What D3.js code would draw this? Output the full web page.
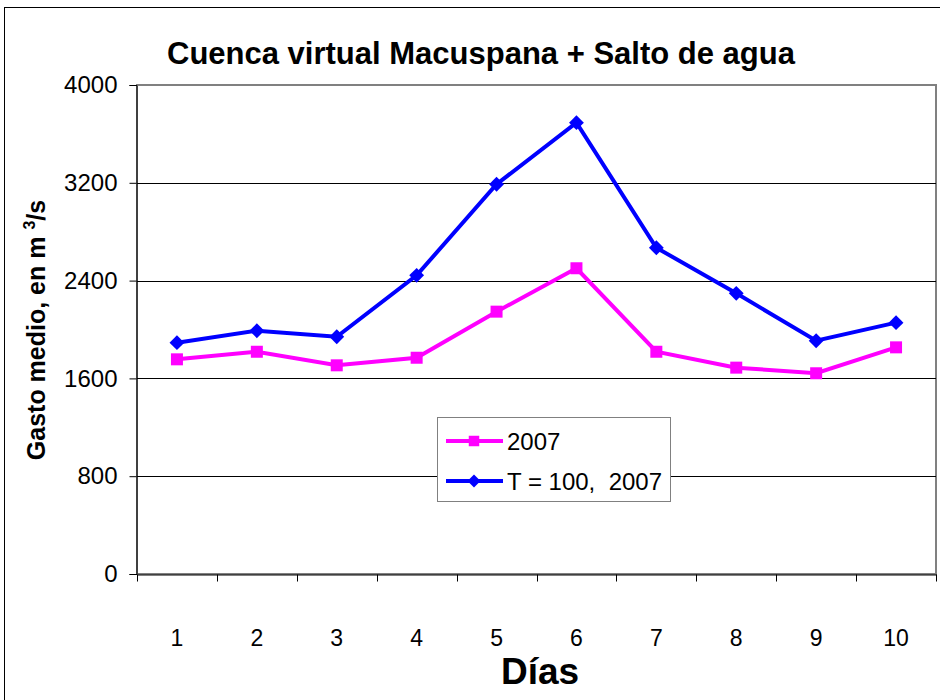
<!DOCTYPE html>
<html>
<head>
<meta charset="utf-8">
<script src="https://cdn.jsdelivr.net/npm/d3@7"></script>
<style>
  body { margin: 0; background: #fff; }
  svg text { font-family: "Liberation Sans", Arial, sans-serif; }
</style>
</head>
<body>
<div id="chart"></div>
<script>
const days = ["1", "2", "3", "4", "5", "6", "7", "8", "9", "10"];
const serie2007 = [1756, 1818, 1707, 1769, 2146, 2501, 1818, 1688, 1642, 1854];
const serieT100 = [1892, 1990, 1941, 2443, 3188, 3692, 2669, 2296, 1908, 2056];
const yTicks = [0, 800, 1600, 2400, 3200, 4000];
const seriesNames = ["2007", "T = 100,\u00a0 2007"];

const width = 940;
const height = 700;
const margin = { left: 137, right: 4, top: 85, bottom: 126 };

const svg = d3.select("#chart")
    .append("svg")
    .attr("width", width)
    .attr("height", height);

// outer chart border (cut off at right/bottom in the original)
svg.append("rect")
    .attr("x", 4.5).attr("y", 7.5)
    .attr("width", width + 10).attr("height", height + 10)
    .attr("fill", "none").attr("stroke", "#000");

const xScale = d3.scaleBand()
    .domain(days)
    .range([margin.left, width - margin.right]);

const yScale = d3.scaleLinear()
    .domain([0, 4000])
    .range([height - margin.bottom, margin.top]);

// plot area frame (grey)
svg.append("rect")
    .attr("x", margin.left).attr("y", margin.top)
    .attr("width", width - margin.right - margin.left)
    .attr("height", yScale(0) - margin.top)
    .attr("fill", "none").attr("stroke", "#808080").attr("stroke-width", 2);

// grid lines
svg.selectAll("line.grid")
    .data(yTicks.slice(1, -1))
    .enter()
    .append("line")
    .attr("class", "grid")
    .attr("x1", margin.left).attr("x2", width - margin.right)
    .attr("y1", d => Math.round(yScale(d)) + 0.5)
    .attr("y2", d => Math.round(yScale(d)) + 0.5)
    .attr("stroke", "#000");

const yAxis = d3.axisLeft(yScale).tickValues(yTicks).tickFormat(d3.format("d"))
    .tickSize(7).tickPadding(12);
svg.append("g")
    .attr("transform", "translate(" + (margin.left - 0.5) + ",0)")
    .call(yAxis)
    .call(g => g.selectAll("text").attr("font-size", 24).attr("fill", "#000")
        .attr("font-family", "Liberation Sans, Arial, sans-serif"));

const xAxis = d3.axisBottom(xScale).tickSize(0).tickPadding(55);
const xg = svg.append("g")
    .attr("transform", "translate(0," + (yScale(0) + 0.5) + ")")
    .call(xAxis);
xg.selectAll("text").attr("font-size", 23).attr("fill", "#000")
    .attr("font-family", "Liberation Sans, Arial, sans-serif");
// ticks between categories
const bounds = days.map(d => xScale(d)).concat([xScale(days[days.length - 1]) + xScale.bandwidth()]);
xg.selectAll("line.sep")
    .data(bounds)
    .enter()
    .append("line")
    .attr("class", "sep")
    .attr("x1", d => Math.round(d) + 0.5).attr("x2", d => Math.round(d) + 0.5)
    .attr("y1", 0).attr("y2", 7)
    .attr("stroke", "#000");

const cx = i => xScale(days[i]) + xScale.bandwidth() / 2;
const line = d3.line()
    .x((d, i) => cx(i))
    .y(d => yScale(d));

const squareSym = d3.symbol().type(d3.symbolSquare).size(144);
const diamondSym = d3.symbol().type(d3.symbolSquare).size(110);

function drawSeries(values, color, shape) {
    svg.append("path")
        .datum(values)
        .attr("fill", "none")
        .attr("stroke", color)
        .attr("stroke-width", 4)
        .attr("d", line);
    svg.selectAll("path.m-" + shape)
        .data(values)
        .enter()
        .append("path")
        .attr("class", "m-" + shape)
        .attr("d", shape === "sq" ? squareSym : diamondSym)
        .attr("transform", (d, i) => "translate(" + cx(i) + "," + yScale(d) + ")" + (shape === "sq" ? "" : " rotate(45)"))
        .attr("fill", color);
}

drawSeries(serieT100, "#0000ff", "dia");
drawSeries(serie2007, "#ff00ff", "sq");

// legend
const legend = svg.append("g").attr("transform", "translate(437,417)");
legend.append("rect")
    .attr("x", 0.5).attr("y", 0.5)
    .attr("width", 233).attr("height", 84)
    .attr("fill", "#fff").attr("stroke", "#808080");
const legendColors = ["#ff00ff", "#0000ff"];
seriesNames.forEach((name, i) => {
    const y = 24 + i * 40;
    legend.append("line")
        .attr("x1", 9).attr("x2", 66).attr("y1", y).attr("y2", y)
        .attr("stroke", legendColors[i]).attr("stroke-width", 4);
    legend.append("path")
        .attr("d", i === 0 ? d3.symbol().type(d3.symbolSquare).size(110) : d3.symbol().type(d3.symbolSquare).size(85))
        .attr("transform", "translate(37," + y + ")" + (i === 0 ? "" : " rotate(45)"))
        .attr("fill", legendColors[i]);
    legend.append("text")
        .attr("x", 70).attr("y", y + 8.5)
        .attr("font-size", 24)
        .text(name);
});

// title
svg.append("text")
    .attr("x", 481).attr("y", 64)
    .attr("text-anchor", "middle")
    .attr("font-size", 31).attr("font-weight", "bold")
    .text("Cuenca virtual Macuspana + Salto de agua");

// y axis label
const yl = svg.append("text")
    .attr("transform", "translate(45,330) rotate(-90)")
    .attr("text-anchor", "middle")
    .attr("font-size", 25).attr("font-weight", "bold");
yl.append("tspan").text("Gasto medio, en m ");
yl.append("tspan").attr("font-size", 16).attr("dy", -10).text("3");
yl.append("tspan").attr("dy", 10).text("/s");

// x axis label
svg.append("text")
    .attr("x", 540).attr("y", 684)
    .attr("text-anchor", "middle")
    .attr("font-size", 37).attr("font-weight", "bold")
    .text("Días");
</script>
</body>
</html>
